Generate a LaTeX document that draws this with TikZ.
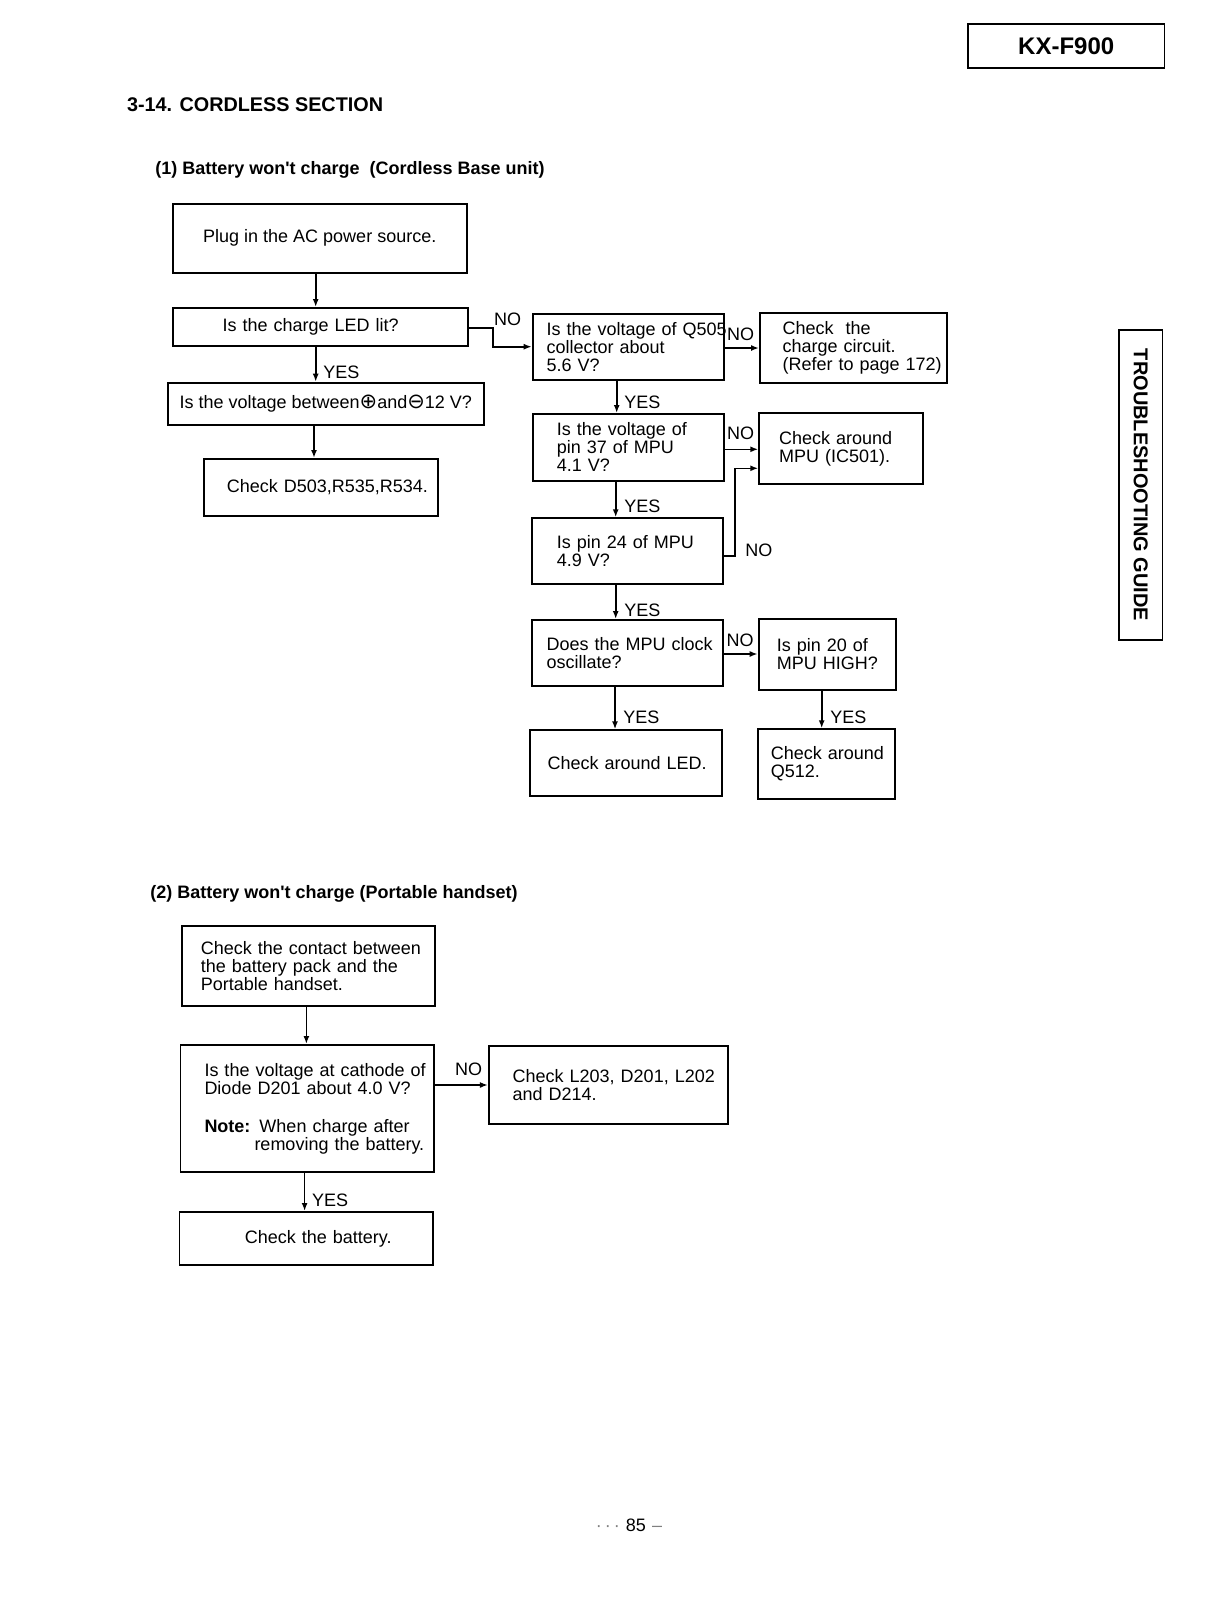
\documentclass[tikz,border=0pt]{standalone}
\usepackage{fontspec}
\setmainfont{Liberation Sans}
\newfontfamily\symf{DejaVu Sans}
\usetikzlibrary{arrows.meta}
\newcommand\tline[1]{\mbox{#1}}
\begin{document}
\begin{tikzpicture}[x=0.5pt,y=-0.5pt,
  bx/.style={draw, line width=0.9pt, anchor=north west, inner ysep=0pt, font=\fontsize{9}{9}\selectfont, align=left},
  arr/.style={line width=0.8pt, -{Latex[length=4pt,width=3pt]}},
  lbl/.style={font=\fontsize{9}{9}\selectfont, inner sep=0pt},
  lblw/.style={lbl, anchor=west},
  ttl/.style={inner sep=0pt, anchor=west}]

\useasboundingbox (0,0) rectangle (1216,1612);

% headings
\node[ttl, font=\bfseries\fontsize{9.9}{9.9}\selectfont] (h1) at (126.7,105) {3-14. CORDLESS SECTION};
\node[ttl, font=\bfseries\fontsize{9}{9}\selectfont] (h2) at (155,170) {(1) Battery won\textquotesingle t charge\ \ (Cordless Base unit)};
\node[ttl, font=\bfseries\fontsize{9}{9}\selectfont] (h3) at (150,893.5) {(2) Battery won\textquotesingle t charge (Portable handset)};

\node[draw, line width=0.9pt, anchor=north west, minimum width=98.3pt, minimum height=22pt, inner sep=0pt, font=\bfseries\fontsize{12}{12}\selectfont] (model) at (967,23) {KX-F900};
\node[draw, line width=0.8pt, rotate=-90, minimum width=155pt, minimum height=21.75pt, inner sep=0pt, font=\bfseries\fontsize{10}{10}\selectfont] (tab) at (1140.75,485) {TROUBLESHOOTING GUIDE};

\node[font=\fontsize{9}{9}\selectfont, inner sep=0pt] (pg) at (629,1525) {{\color{gray}·\,·\,·}\,\,85\,\,{\color{gray}–}};

% section 1 boxes
\node[bx, minimum width=147.15pt, minimum height=34.5pt, align=center] (plug) at (171.7,202.7) {Plug in the AC power source.};
\node[bx, minimum width=147.5pt, minimum height=19pt, inner xsep=25pt, text width=97.5pt] (led) at (171.7,307) {\tline{Is the charge LED lit?}};
\node[bx, minimum width=158.15pt, minimum height=21.15pt, align=center, inner xsep=0pt] (volt) at (166.7,381.7) {Is the voltage between{\symf\fontsize{10.5}{9}\selectfont ⊕}and{\symf\fontsize{10.5}{9}\selectfont ⊖}12 V?};
\node[bx, minimum width=117.15pt, minimum height=28.5pt, inner xsep=11.65pt, text width=93.85pt] (d503) at (202.7,458) {\tline{Check D503,R535,R534.}};

\node[bx, minimum width=95.65pt, minimum height=33.15pt, inner xsep=7pt, text width=81.65pt] (q505) at (531.7,312.7) {\tline{Is the voltage of Q505}\\\tline{collector about}\\\tline{5.6 V?}};
\node[bx, minimum width=93.5pt, minimum height=35pt, inner xsep=11.35pt, text width=70.8pt] (chg) at (759,311.7) {\tline{Check\ \ the}\\\tline{charge circuit.}\\\tline{(Refer to page 172)}};
\node[bx, minimum width=95.5pt, minimum height=33.5pt, inner xsep=12.15pt, text width=71.2pt] (p37) at (531.7,413) {\tline{Is the voltage of}\\\tline{pin 37 of MPU}\\\tline{4.1 V?}};
\node[bx, minimum width=81.7pt, minimum height=35.5pt, inner xsep=10pt, text width=61.7pt] (mpu) at (758.3,412.3) {\tline{Check around}\\\tline{MPU (IC501).}};
\node[bx, minimum width=95.8pt, minimum height=33pt, inner xsep=12.65pt, text width=70.5pt] (p24) at (530.7,517.3) {\tline{Is pin 24 of MPU}\\\tline{4.9 V?}};
\node[bx, minimum width=95.5pt, minimum height=33pt, inner xsep=7.5pt, text width=80.5pt] (clk) at (530.7,619) {\tline{Does the MPU clock}\\\tline{oscillate?}};
\node[bx, minimum width=68.65pt, minimum height=35.65pt, inner xsep=9.15pt, text width=50.35pt] (p20) at (757.7,617.7) {\tline{Is pin 20 of}\\\tline{MPU HIGH?}};
\node[bx, minimum width=95.7pt, minimum height=32.85pt, inner xsep=8.7pt, text width=78.3pt] (chled) at (529.3,729.3) {\tline{Check around LED.}};
\node[bx, minimum width=68.5pt, minimum height=34.85pt, inner xsep=6.35pt, text width=55.8pt] (q512) at (757.3,728.3) {\tline{Check around}\\\tline{Q512.}};

% section 2 boxes
\node[bx, minimum width=126.65pt, minimum height=40pt, inner xsep=9.65pt, text width=107.35pt] (contact) at (180.7,925) {\tline{Check the contact between}\\\tline{the battery pack and the}\\\tline{Portable handset.}};
\node[bx, minimum width=126.8pt, minimum height=63.5pt, inner xsep=12pt, text width=102.8pt] (d201) at (179.6,1044) {\tline{Is the voltage at cathode of}\\\tline{Diode D201 about 4.0 V?}\\[10pt]\tline{\textbf{Note:} When charge after}\\\tline{\hspace*{25pt}removing the battery.}};
\node[bx, minimum width=119.55pt, minimum height=39.15pt, inner xsep=11.95pt, text width=95.65pt] (l203) at (487.9,1045) {\tline{Check L203, D201, L202}\\\tline{and D214.}\\[2pt]};
\node[bx, minimum width=126.75pt, minimum height=26.5pt, inner xsep=32.7pt, text width=61.35pt] (batt) at (178.6,1211) {\tline{Check the battery.}};

% helper coordinates
\coordinate (xa) at (315.7,0);
\coordinate (xb) at (314,0);
\coordinate (ya) at (0,327.7);
\coordinate (xc) at (493,0);
\coordinate (yb) at (0,346.7);
\coordinate (yc) at (0,348);
\coordinate (xd) at (616.7,0);
\coordinate (ye) at (0,449.3);
\coordinate (xf) at (615.7,0);
\coordinate (yg) at (0,556);
\coordinate (xg) at (735,0);
\coordinate (yh) at (0,468.3);
\coordinate (yi) at (0,654);
\coordinate (xj) at (615,0);
\coordinate (xk) at (821.7,0);
\coordinate (xl) at (306.4,0);
\coordinate (ym) at (0,1085);
\coordinate (xn) at (304.6,0);

% connectors
\draw[arr] (plug.south -| xa) -- (led.north -| xa);
\draw[arr] (led.south -| xa) -- (volt.north -| xa);
\draw[arr] (volt.south -| xb) -- (d503.north -| xb);
\draw[arr] (led.east |- ya) -| (xc |- yb) -- (q505.west |- yb);
\draw[arr] (q505.east |- yc) -- (chg.west |- yc);
\draw[arr] (q505.south -| xd) -- (p37.north -| xd);
\draw[arr] (p37.east |- ye) -- (mpu.west |- ye);
\draw[arr] (p37.south -| xf) -- (p24.north -| xf);
\draw[arr] (p24.east |- yg) -| (xg |- yh) -- (mpu.west |- yh);
\draw[arr] (p24.south -| xf) -- (clk.north -| xf);
\draw[arr] (clk.east |- yi) -- (p20.west |- yi);
\draw[arr] (clk.south -| xj) -- (chled.north -| xj);
\draw[arr] (p20.south -| xk) -- (q512.north -| xk);
\draw[arr] (contact.south -| xl) -- (d201.north -| xl);
\draw[arr] (d201.east |- ym) -- (l203.west |- ym);
\draw[arr] (d201.south -| xn) -- (batt.north -| xn);

% labels
\node[lbl] (n1) at (507.5,319) {NO};
\node[lblw] (y1) at (323,372.5) {YES};
\node[lbl] (n2) at (740.5,334) {NO};
\node[lblw] (y2) at (624,402) {YES};
\node[lbl] (n3) at (740.5,433.5) {NO};
\node[lblw] (y3) at (624,506.5) {YES};
\node[lblw] (n4) at (745,550) {NO};
\node[lblw] (y4) at (624,610) {YES};
\node[lbl] (n5) at (740,640) {NO};
\node[lblw] (y5) at (623,717.5) {YES};
\node[lblw] (y6) at (830,717.5) {YES};
\node[lbl] (n6) at (468.5,1069) {NO};
\node[lblw] (y7) at (311.8,1200) {YES};
\end{tikzpicture}
\end{document}
